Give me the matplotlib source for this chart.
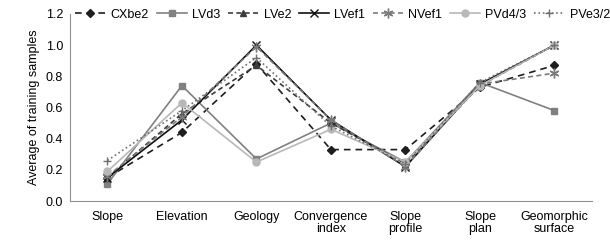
import matplotlib
matplotlib.use('Agg')
import matplotlib.pyplot as plt

plt.rcParams['font.family'] = ['Liberation Sans', 'DejaVu Sans']

# --- data ---
categories = ['Slope', 'Elevation', 'Geology', 'Convergence\nindex',
              'Slope\nprofile', 'Slope\nplan', 'Geomorphic\nsurface']

cxbe2 = [0.15, 0.44, 0.88, 0.33, 0.33, 0.73, 0.87]
lvd3 = [0.11, 0.74, 0.27, 0.50, 0.25, 0.76, 0.58]
lve2 = [0.15, 0.56, 0.87, 0.50, 0.24, 0.74, 1.00]
lvef1 = [0.15, 0.52, 1.00, 0.52, 0.22, 0.75, 1.00]
nvef1 = [0.16, 0.54, 0.99, 0.52, 0.22, 0.75, 0.82]
pvd43 = [0.19, 0.63, 0.25, 0.46, 0.25, 0.74, 1.00]
pve32 = [0.26, 0.58, 0.92, 0.48, 0.24, 0.76, 1.00]

series = [
    ('CXbe2', cxbe2, '#1e1e1e', (0, (4, 3)), 'D', 4),
    ('LVd3', lvd3, '#808080', '-', 's', 5),
    ('LVe2', lve2, '#3c3c3c', (0, (3, 2)), '^', 5),
    ('LVef1', lvef1, '#101010', '-', 'x', 6),
    ('NVef1', nvef1, '#7a7a7a', (0, (3, 2)), (6, 2, 0), 7),
    ('PVd4/3', pvd43, '#b8b8b8', '-', 'o', 5),
    ('PVe3/2', pve32, '#707070', ':', '+', 6),
]

fig, ax = plt.subplots(figsize=(6.1, 2.44), dpi=100)
fig.subplots_adjust(left=0.115, right=0.97, bottom=0.176, top=0.943)

x = list(range(len(categories)))
for name, vals, col, ls, mk, ms in series:
    ax.plot(x, vals, color=col, linestyle=ls, linewidth=1.2, marker=mk,
            markersize=ms, markerfacecolor=col, markeredgecolor=col, label=name)

ax.set_xlim(-0.5, len(categories) - 0.5)
ax.set_ylim(0, 1.2)
ax.set_yticks([0.0, 0.2, 0.4, 0.6, 0.8, 1.0, 1.2])
ax.set_yticklabels([f'{v:.1f}' for v in ax.get_yticks()], fontsize=9)
ax.set_xticks(x)
ax.set_xticklabels(categories, fontsize=9, linespacing=1.05)
ax.tick_params(axis='both', length=0)
ax.tick_params(axis='x', pad=7)
ax.tick_params(axis='y', pad=5)
ax.set_ylabel('Average of training samples', fontsize=9)

for s in ['top', 'right']:
    ax.spines[s].set_visible(False)
for s in ['left', 'bottom']:
    ax.spines[s].set_color('#909090')

ax.legend(loc='upper left', bbox_to_anchor=(0.0, 1.055), ncol=7, frameon=False,
          fontsize=9, handlelength=2.4, columnspacing=0.6, handletextpad=0.45,
          borderaxespad=0.0)

plt.savefig('out.png', dpi=100)
